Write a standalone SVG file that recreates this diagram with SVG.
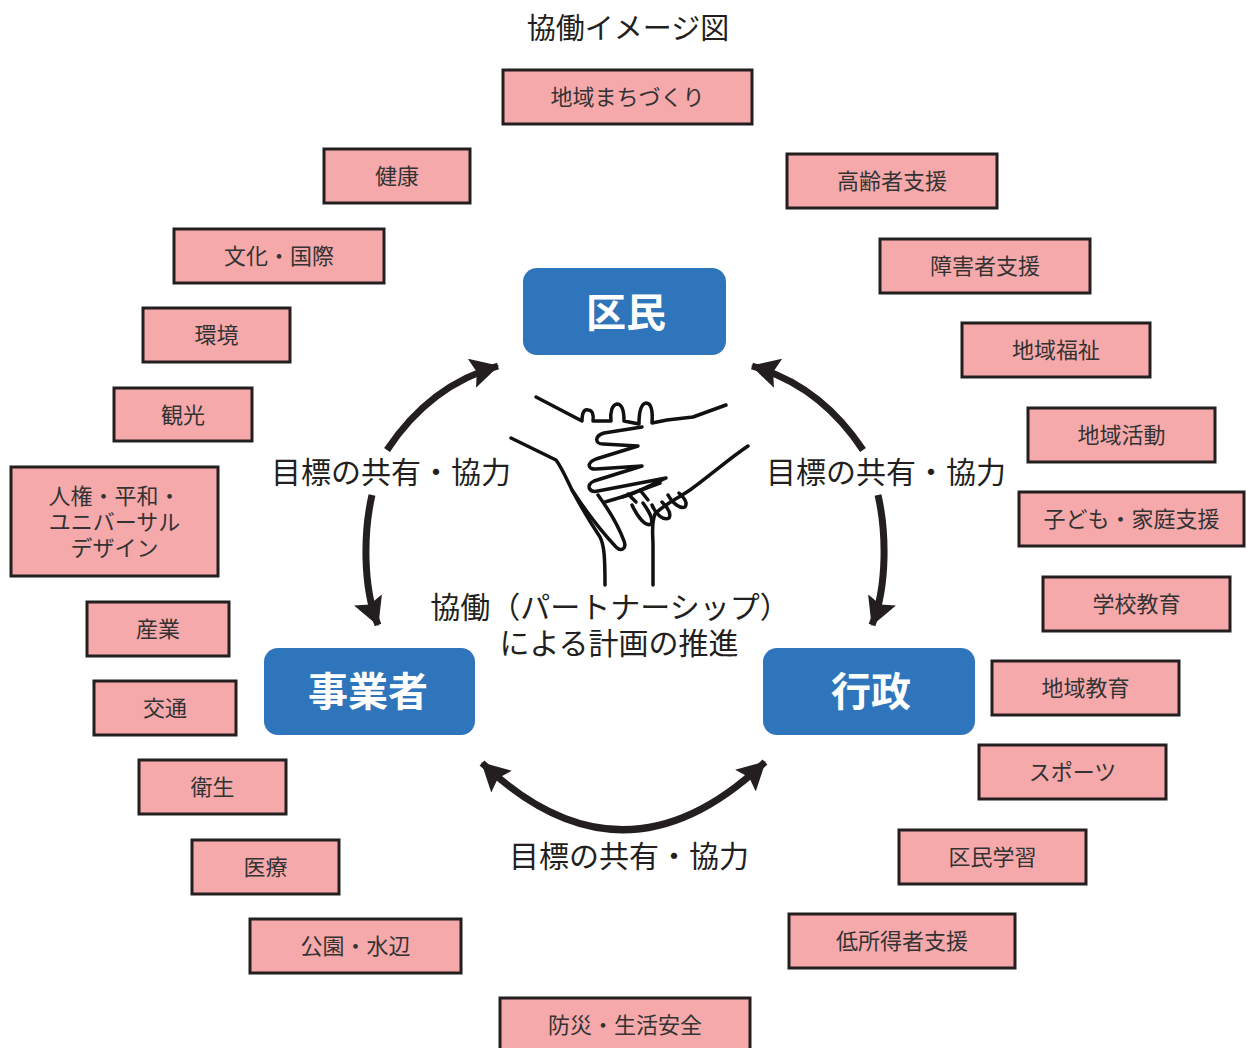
<svg xmlns="http://www.w3.org/2000/svg" width="1247" height="1048" viewBox="0 0 1247 1048">
  <style>
    .t { font-family: "Noto Sans CJK JP", "Noto Sans", sans-serif; }
    .title { font-size: 29px; fill: #231f20; }
    .topic rect { fill: #f6a9ab; stroke: #231f20; stroke-width: 3; }
    .topic text { font-size: 22px; fill: #333333; text-anchor: middle; dominant-baseline: central; }
    .actor rect { fill: #2e75bb; }
    .actor text { font-size: 40px; font-weight: bold; fill: #ffffff; text-anchor: middle; dominant-baseline: central; }
    .lbl { font-size: 30px; fill: #231f20; text-anchor: middle; dominant-baseline: central; }
    .arc { fill: none; stroke: #231f20; stroke-width: 7; }
    .hand { fill: none; stroke: #111111; stroke-width: 3.5; stroke-linecap: round; stroke-linejoin: round; }
  </style>
  <defs>
    <marker id="head" viewBox="0 0 28 30" refX="27" refY="15" markerWidth="28" markerHeight="30" markerUnits="userSpaceOnUse" orient="auto-start-reverse">
      <path d="M0,0 L28,15 L0,30 L5,15 Z" fill="#231f20"/>
    </marker>
  </defs>

  <rect width="1247" height="1048" fill="#ffffff"/>

  <text class="t title" x="628" y="26" text-anchor="middle" dominant-baseline="central">協働イメージ図</text>

  <!-- policy areas -->
  <g id="n-machizukuri" class="topic"><rect x="503" y="70" width="249" height="54"/><text class="t" x="627.5" y="95">地域まちづくり</text></g>
  <g id="n-kenko" class="topic"><rect x="324" y="149" width="146" height="54"/><text class="t" x="397" y="174">健康</text></g>
  <g id="n-koreisha" class="topic"><rect x="787" y="154" width="210" height="54"/><text class="t" x="892" y="179">高齢者支援</text></g>
  <g id="n-bunka" class="topic"><rect x="174" y="229" width="210" height="54"/><text class="t" x="279" y="254">文化・国際</text></g>
  <g id="n-shogaisha" class="topic"><rect x="880" y="239" width="210" height="54"/><text class="t" x="985" y="264">障害者支援</text></g>
  <g id="n-kankyo" class="topic"><rect x="143" y="308" width="147" height="54"/><text class="t" x="216.5" y="333">環境</text></g>
  <g id="n-fukushi" class="topic"><rect x="962" y="323" width="188" height="54"/><text class="t" x="1056" y="348">地域福祉</text></g>
  <g id="n-kanko" class="topic"><rect x="114" y="388" width="138" height="53"/><text class="t" x="183" y="413">観光</text></g>
  <g id="n-katsudo" class="topic"><rect x="1028" y="408" width="187" height="54"/><text class="t" x="1121.5" y="433">地域活動</text></g>
  <g id="n-jinken" class="topic"><rect x="11" y="467" width="207" height="109"/>
    <text class="t" x="114.5" y="494">人権・平和・</text>
    <text class="t" x="114.5" y="520">ユニバーサル</text>
    <text class="t" x="114.5" y="546">デザイン</text></g>
  <g id="n-kodomo" class="topic"><rect x="1019" y="492" width="225" height="54"/><text class="t" x="1131.5" y="517">子ども・家庭支援</text></g>
  <g id="n-gakko" class="topic"><rect x="1043" y="577" width="187" height="54"/><text class="t" x="1136.5" y="602">学校教育</text></g>
  <g id="n-sangyo" class="topic"><rect x="87" y="602" width="142" height="54"/><text class="t" x="158" y="627">産業</text></g>
  <g id="n-chiikikyoiku" class="topic"><rect x="992" y="661" width="187" height="54"/><text class="t" x="1085.5" y="686">地域教育</text></g>
  <g id="n-kotsu" class="topic"><rect x="94" y="681" width="142" height="54"/><text class="t" x="165" y="706">交通</text></g>
  <g id="n-sports" class="topic"><rect x="979" y="745" width="187" height="54"/><text class="t" x="1072.5" y="770">スポーツ</text></g>
  <g id="n-eisei" class="topic"><rect x="139" y="760" width="147" height="54"/><text class="t" x="212.5" y="785">衛生</text></g>
  <g id="n-gakushu" class="topic"><rect x="899" y="830" width="187" height="54"/><text class="t" x="992.5" y="855">区民学習</text></g>
  <g id="n-iryo" class="topic"><rect x="192" y="840" width="147" height="54"/><text class="t" x="265.5" y="865">医療</text></g>
  <g id="n-koen" class="topic"><rect x="250" y="919" width="211" height="54"/><text class="t" x="355.5" y="944">公園・水辺</text></g>
  <g id="n-teishotoku" class="topic"><rect x="789" y="914" width="226" height="54"/><text class="t" x="902" y="939">低所得者支援</text></g>
  <g id="n-bosai" class="topic"><rect x="500" y="998" width="250" height="54"/><text class="t" x="625" y="1023">防災・生活安全</text></g>

  <!-- partners -->
  <g id="n-kumin" class="actor"><rect x="523" y="268" width="203" height="87" rx="14"/><text class="t" x="626" y="310">区民</text></g>
  <g id="n-jigyosha" class="actor"><rect x="264" y="648" width="211" height="87" rx="14"/><text class="t" x="368" y="689">事業者</text></g>
  <g id="n-gyosei" class="actor"><rect x="763" y="648" width="212" height="87" rx="14"/><text class="t" x="871" y="689">行政</text></g>

  <!-- two-way arrows between partners -->
  <g id="connectors">
    <path class="arc" d="M387,450 Q430,385 498,366" marker-end="url(#head)"/>
    <path class="arc" d="M372,495 C364,530 362,585 378,625" marker-end="url(#head)"/>
    <path class="arc" d="M863,450 Q820,385 752,366" marker-end="url(#head)"/>
    <path class="arc" d="M878,495 C886,530 888,585 872,625" marker-end="url(#head)"/>
    <path class="arc" d="M482,763 Q623,897 765,762" marker-start="url(#head)" marker-end="url(#head)"/>
  </g>

  <text class="t lbl" x="391" y="470">目標の共有・協力</text>
  <text class="t lbl" x="886" y="470">目標の共有・協力</text>
  <text class="t lbl" x="629" y="854">目標の共有・協力</text>
  <text class="t lbl" x="610" y="605">協働（パートナーシップ）</text>
  <text class="t lbl" x="619" y="641">による計画の推進</text>

  <!-- joined hands sketch -->
  <g id="hands">
    <path class="hand" d="M536,397 L582,421 C582,413 584,409 588,410 C592,410 594,414 593,421 L611,421 C610,412 612,405 617,404 C622,404 624,410 624,421 L639,424 C639,412 641,404 646,403 C651,403 653,410 652,423 L667,420 L693,417 L726,405"/>
    <path class="hand" d="M642,427 L604,433 C594,436 595,444 603,444 L638,446 L596,459 C586,463 588,470 596,469 L642,466 L594,481 C585,485 589,493 598,491 L666,478 L632,494 L605,502"/>
    <path class="hand" d="M511,438 L556,460 C562,468 567,480 572,490 C580,505 592,525 600,537 C604,545 605,555 605,585"/>
    <path class="hand" d="M572,490 C585,510 603,533 616,547 C621,552 627,549 624,541 C617,522 606,506 598,495"/>
    <path class="hand" d="M748,446 C730,458 712,474 690,490 C675,500 662,506 655,514 C651,524 653,535 653,545 L653,585"/>
    <path class="hand" d="M622,497 L660,483"/>
    <path class="hand" d="M668,495 C672,503 680,509 685,507 C688,503 684,497 679,493"/>
    <path class="hand" d="M652,505 C656,515 664,521 669,518 C672,513 667,507 662,502"/>
    <path class="hand" d="M632,505 C638,518 646,527 651,524 C654,519 648,510 643,503"/>
    <path class="hand" d="M640,490 L648,500 M628,494 L636,502"/>
  </g>
</svg>
